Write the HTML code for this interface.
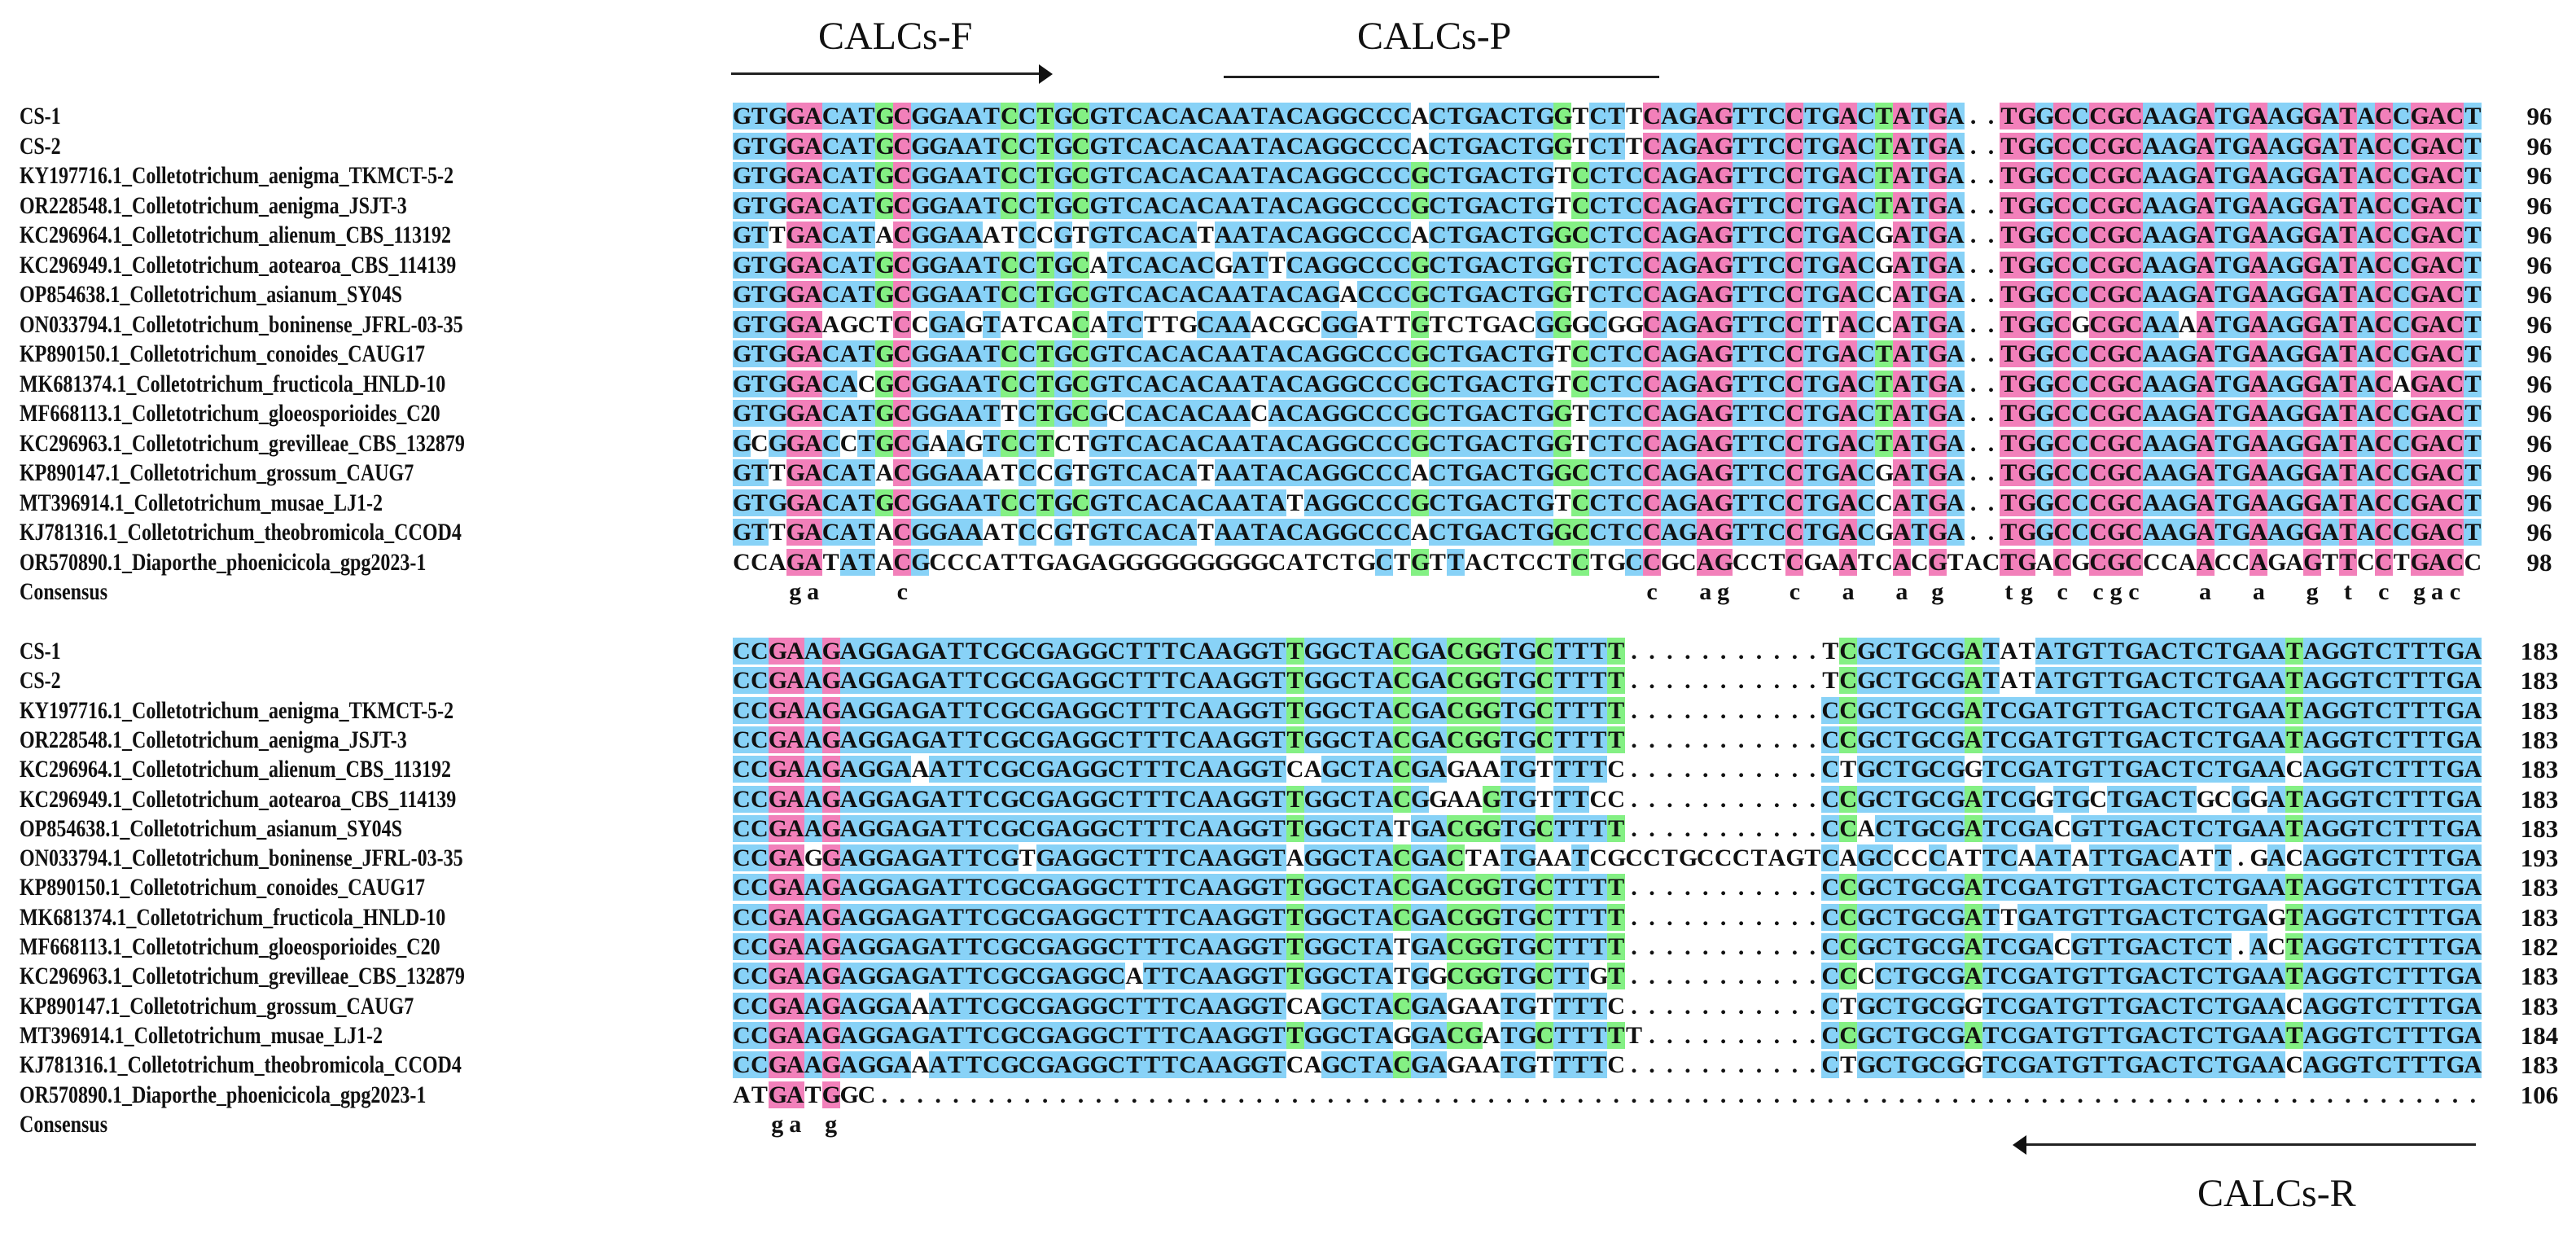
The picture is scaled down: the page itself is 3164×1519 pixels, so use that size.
<!DOCTYPE html>
<html><head><meta charset="utf-8">
<style>
html,body{margin:0;padding:0;background:#fff;}
body{width:3164px;height:1519px;position:relative;overflow:hidden;font-family:"Liberation Serif",serif;color:#111;}
.row{position:absolute;left:900px;height:33px;display:flex;}
.c{width:21.93px;height:33px;line-height:33px;text-align:center;font-size:30px;font-weight:bold;flex:none;}
.b{background:#88d2f7;}
.p{background:#f280ba;}
.g{background:#84f084;}
.nm{position:absolute;left:24px;height:33px;line-height:33px;font-size:30px;font-weight:bold;white-space:nowrap;transform:scaleX(0.8);transform-origin:0 0;}
.num{position:absolute;left:3080px;width:78px;text-align:center;height:33px;line-height:33px;font-size:31px;font-weight:bold;}
.lab{position:absolute;font-size:48px;line-height:48px;white-space:nowrap;}
.ln{position:absolute;height:3px;background:#222;}
</style></head><body>

<div class="lab" style="left:1005px;top:21px;">CALCs-F</div>
<div class="ln" style="left:898px;top:89px;width:382px;"></div>
<svg style="position:absolute;left:1276px;top:79px" width="20" height="24"><polygon points="0,0 17,12 0,24" fill="#111"/></svg>
<div class="lab" style="left:1667px;top:21px;">CALCs-P</div>
<div class="ln" style="left:1503px;top:93px;width:535px;"></div>

<div class="ln" style="left:2486px;top:1404px;width:555px;"></div>
<svg style="position:absolute;left:2470px;top:1394px" width="20" height="24"><polygon points="19,0 2,12 19,24" fill="#111"/></svg>
<div class="lab" style="left:2699px;top:1442px;">CALCs-R</div>

<div class="nm" style="top:126px">CS-1</div>
<div class="nm" style="top:162.5px">CS-2</div>
<div class="nm" style="top:199px">KY197716.1_Colletotrichum_aenigma_TKMCT-5-2</div>
<div class="nm" style="top:235.5px">OR228548.1_Colletotrichum_aenigma_JSJT-3</div>
<div class="nm" style="top:272px">KC296964.1_Colletotrichum_alienum_CBS_113192</div>
<div class="nm" style="top:308.5px">KC296949.1_Colletotrichum_aotearoa_CBS_114139</div>
<div class="nm" style="top:345px">OP854638.1_Colletotrichum_asianum_SY04S</div>
<div class="nm" style="top:381.5px">ON033794.1_Colletotrichum_boninense_JFRL-03-35</div>
<div class="nm" style="top:418px">KP890150.1_Colletotrichum_conoides_CAUG17</div>
<div class="nm" style="top:454.5px">MK681374.1_Colletotrichum_fructicola_HNLD-10</div>
<div class="nm" style="top:491px">MF668113.1_Colletotrichum_gloeosporioides_C20</div>
<div class="nm" style="top:527.5px">KC296963.1_Colletotrichum_grevilleae_CBS_132879</div>
<div class="nm" style="top:564px">KP890147.1_Colletotrichum_grossum_CAUG7</div>
<div class="nm" style="top:600.5px">MT396914.1_Colletotrichum_musae_LJ1-2</div>
<div class="nm" style="top:637px">KJ781316.1_Colletotrichum_theobromicola_CCOD4</div>
<div class="nm" style="top:673.5px">OR570890.1_Diaporthe_phoenicicola_gpg2023-1</div>
<div class="nm" style="top:710px">Consensus</div>

<div class="nm" style="top:783px">CS-1</div>
<div class="nm" style="top:819.3px">CS-2</div>
<div class="nm" style="top:855.6px">KY197716.1_Colletotrichum_aenigma_TKMCT-5-2</div>
<div class="nm" style="top:891.9px">OR228548.1_Colletotrichum_aenigma_JSJT-3</div>
<div class="nm" style="top:928.2px">KC296964.1_Colletotrichum_alienum_CBS_113192</div>
<div class="nm" style="top:964.5px">KC296949.1_Colletotrichum_aotearoa_CBS_114139</div>
<div class="nm" style="top:1000.8px">OP854638.1_Colletotrichum_asianum_SY04S</div>
<div class="nm" style="top:1037.1px">ON033794.1_Colletotrichum_boninense_JFRL-03-35</div>
<div class="nm" style="top:1073.4px">KP890150.1_Colletotrichum_conoides_CAUG17</div>
<div class="nm" style="top:1109.7px">MK681374.1_Colletotrichum_fructicola_HNLD-10</div>
<div class="nm" style="top:1146px">MF668113.1_Colletotrichum_gloeosporioides_C20</div>
<div class="nm" style="top:1182.3px">KC296963.1_Colletotrichum_grevilleae_CBS_132879</div>
<div class="nm" style="top:1218.6px">KP890147.1_Colletotrichum_grossum_CAUG7</div>
<div class="nm" style="top:1254.9px">MT396914.1_Colletotrichum_musae_LJ1-2</div>
<div class="nm" style="top:1291.2px">KJ781316.1_Colletotrichum_theobromicola_CCOD4</div>
<div class="nm" style="top:1327.5px">OR570890.1_Diaporthe_phoenicicola_gpg2023-1</div>
<div class="nm" style="top:1363.8px">Consensus</div>

<div class="num" style="top:126px">96</div>
<div class="num" style="top:162.5px">96</div>
<div class="num" style="top:199px">96</div>
<div class="num" style="top:235.5px">96</div>
<div class="num" style="top:272px">96</div>
<div class="num" style="top:308.5px">96</div>
<div class="num" style="top:345px">96</div>
<div class="num" style="top:381.5px">96</div>
<div class="num" style="top:418px">96</div>
<div class="num" style="top:454.5px">96</div>
<div class="num" style="top:491px">96</div>
<div class="num" style="top:527.5px">96</div>
<div class="num" style="top:564px">96</div>
<div class="num" style="top:600.5px">96</div>
<div class="num" style="top:637px">96</div>
<div class="num" style="top:673.5px">98</div>

<div class="num" style="top:783px">183</div>
<div class="num" style="top:819.3px">183</div>
<div class="num" style="top:855.6px">183</div>
<div class="num" style="top:891.9px">183</div>
<div class="num" style="top:928.2px">183</div>
<div class="num" style="top:964.5px">183</div>
<div class="num" style="top:1000.8px">183</div>
<div class="num" style="top:1037.1px">193</div>
<div class="num" style="top:1073.4px">183</div>
<div class="num" style="top:1109.7px">183</div>
<div class="num" style="top:1146px">182</div>
<div class="num" style="top:1182.3px">183</div>
<div class="num" style="top:1218.6px">183</div>
<div class="num" style="top:1254.9px">184</div>
<div class="num" style="top:1291.2px">183</div>
<div class="num" style="top:1327.5px">106</div>

<div id="seqs"></div>

<script>
var T1=".TGGCCCGCAAGATGAAGGATACCGACT";
var B1=[
"GTGGACATGCGGAATCCTGCGTCACACAATACAGGCCCACTGACTGGTCTTCAGAGTTCCTGACTATGA."+T1,
"GTGGACATGCGGAATCCTGCGTCACACAATACAGGCCCACTGACTGGTCTTCAGAGTTCCTGACTATGA."+T1,
"GTGGACATGCGGAATCCTGCGTCACACAATACAGGCCCGCTGACTGTCCTCCAGAGTTCCTGACTATGA."+T1,
"GTGGACATGCGGAATCCTGCGTCACACAATACAGGCCCGCTGACTGTCCTCCAGAGTTCCTGACTATGA."+T1,
"GTTGACATACGGAAATCCGTGTCACATAATACAGGCCCACTGACTGGCCTCCAGAGTTCCTGACGATGA."+T1,
"GTGGACATGCGGAATCCTGCATCACACGATTCAGGCCCGCTGACTGGTCTCCAGAGTTCCTGACGATGA."+T1,
"GTGGACATGCGGAATCCTGCGTCACACAATACAGACCCGCTGACTGGTCTCCAGAGTTCCTGACCATGA."+T1,
"GTGGAAGCTCCGAGTATCACATCTTGCAAACGCGGATTGTCTGACGGGCGGCAGAGTTCCTTACCATGA..TGGCGCGCAAAATGAAGGATACCGACT",
"GTGGACATGCGGAATCCTGCGTCACACAATACAGGCCCGCTGACTGTCCTCCAGAGTTCCTGACTATGA."+T1,
"GTGGACACGCGGAATCCTGCGTCACACAATACAGGCCCGCTGACTGTCCTCCAGAGTTCCTGACTATGA..TGGCCCGCAAGATGAAGGATACAGACT",
"GTGGACATGCGGAATTCTGCGCCACACAACACAGGCCCGCTGACTGGTCTCCAGAGTTCCTGACTATGA."+T1,
"GCGGACCTGCGAAGTCCTCTGTCACACAATACAGGCCCGCTGACTGGTCTCCAGAGTTCCTGACTATGA."+T1,
"GTTGACATACGGAAATCCGTGTCACATAATACAGGCCCACTGACTGGCCTCCAGAGTTCCTGACGATGA."+T1,
"GTGGACATGCGGAATCCTGCGTCACACAATATAGGCCCGCTGACTGTCCTCCAGAGTTCCTGACCATGA."+T1,
"GTTGACATACGGAAATCCGTGTCACATAATACAGGCCCACTGACTGGCCTCCAGAGTTCCTGACGATGA."+T1,
"CCAGATATACGCCCATTGAGAGGGGGGGGGCATCTGCTGTTACTCCTCTGCCGCAGCCTCGAATCACGTACTGACGCGCCCAACCAGAGTTCCTGACC"
];
var D="...........";
var KYb="CCGAAGAGGAGATTCGCGAGGCTTTCAAGGTTGGCTACGACGGTGCTTTT"+D+"CCGCTGCGATCGATGTTGACTCTGAATAGGTCTTTGA";
var ALb="CCGAAGAGGAAATTCGCGAGGCTTTCAAGGTCAGCTACGAGAATGTTTTC"+D+"CTGCTGCGGTCGATGTTGACTCTGAACAGGTCTTTGA";
var CSb="CCGAAGAGGAGATTCGCGAGGCTTTCAAGGTTGGCTACGACGGTGCTTTT"+D+"TCGCTGCGATATATGTTGACTCTGAATAGGTCTTTGA";
var dia2="ATGATGGC";while(dia2.length<98)dia2+=".";
var B2=[CSb,CSb,KYb,KYb,ALb,
"CCGAAGAGGAGATTCGCGAGGCTTTCAAGGTTGGCTACGGAAGTGTTTCC"+D+"CCGCTGCGATCGGTGCTGACTGCGGATAGGTCTTTGA",
"CCGAAGAGGAGATTCGCGAGGCTTTCAAGGTTGGCTATGACGGTGCTTTT"+D+"CCACTGCGATCGACGTTGACTCTGAATAGGTCTTTGA",
"CCGAGGAGGAGATTCGTGAGGCTTTCAAGGTAGGCTACGACTATGAATCGCCTGCCCTAGTCAGCCCCATTCAATATTGACATT.GACAGGTCTTTGA",
KYb,
"CCGAAGAGGAGATTCGCGAGGCTTTCAAGGTTGGCTACGACGGTGCTTTT"+D+"CCGCTGCGATTGATGTTGACTCTGAGTAGGTCTTTGA",
"CCGAAGAGGAGATTCGCGAGGCTTTCAAGGTTGGCTATGACGGTGCTTTT"+D+"CCGCTGCGATCGACGTTGACTCT.ACTAGGTCTTTGA",
"CCGAAGAGGAGATTCGCGAGGCATTCAAGGTTGGCTATGGCGGTGCTTGT"+D+"CCCCTGCGATCGATGTTGACTCTGAATAGGTCTTTGA",
ALb,
"CCGAAGAGGAGATTCGCGAGGCTTTCAAGGTTGGCTAGGACGATGCTTTTT.........."+"CCGCTGCGATCGATGTTGACTCTGAATAGGTCTTTGA",
ALb,dia2];
function draw(B,top,pitch,ov){
  var N=98,host=document.getElementById("seqs");
  B=B.map(function(s){while(s.length<N)s+=".";return s.substr(0,N);});
  var cls=[],cons="";
  for(var c=0;c<N;c++){
    var cnt={},best="",bc=0;
    for(var r=0;r<B.length;r++){var ch=B[r][c];if(ch==".")continue;cnt[ch]=(cnt[ch]||0)+1;if(cnt[ch]>bc){bc=cnt[ch];best=ch;}}
    var k="";
    if(bc==B.length)k="p";else if(bc>=12)k="b";else if(bc>=8)k="g";
    if(ov[c])k=ov[c];
    cls.push([best,k]);
    cons+=(k=="p")?best.toLowerCase():" ";
  }
  for(var r=0;r<=B.length;r++){
    var d=document.createElement("div");d.className="row";d.style.top=(top+r*pitch)+"px";
    var h="";
    for(var c=0;c<N;c++){
      if(r<B.length){
        var ch=B[r][c],k=(ch==cls[c][0])?cls[c][1]:"";
        h+='<span class="c '+k+'">'+ch+'</span>';
      }else{
        h+='<span class="c">'+(cons[c]==" "?"&nbsp;":cons[c])+'</span>';
      }
    }
    d.innerHTML=h;host.appendChild(d);
  }
}
draw(B1,126,36.5,{8:"g"});
draw(B2,783,36.3,{});
</script>
</body></html>
